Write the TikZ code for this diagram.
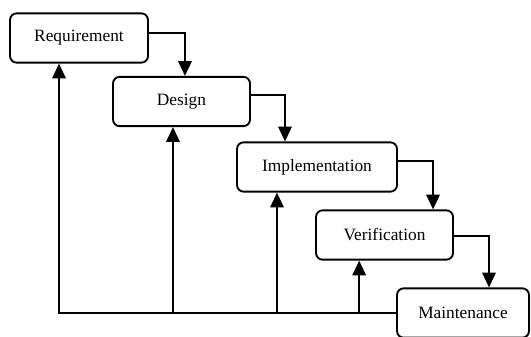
\documentclass[tikz,border=0pt]{standalone}
\usepackage{fontspec}
\setmainfont{Liberation Serif}
\usetikzlibrary{arrows.meta,positioning,calc}

\begin{document}
\begin{tikzpicture}[
      x=0.75pt,y=-0.75pt,line width=1.4pt,
      phase/.style = {draw,rectangle,rounded corners=5pt,minimum height=37pt,text centered,font=\fontsize{13}{15}\selectfont},
      arrow/.style = {-{Triangle[width=10pt,length=11pt]}}
    ]
      \useasboundingbox (0,0) rectangle (531,336);
      \node (req)[phase,minimum width=103.5pt] at (79,38) {Requirement};
      \node (des)[phase,minimum width=102.75pt] at (181.5,101.5) {Design};
      \node (imp)[phase,minimum width=120pt] at (317,167) {Implementation};
      \node (ver)[phase,minimum width=102.75pt] at (384.5,235) {Verification};
      \node (mai)[phase,minimum width=99pt] at (463,313) {Maintenance};

      % flow down the steps
      \draw [arrow] ([yshift=4pt]req.east) -| ([xshift=2.6pt]des.north);
      \draw [arrow] ([yshift=4.9pt]des.east) -| ([xshift=-24pt]imp.north);
      \draw [arrow] ([yshift=4.5pt]imp.east) -| ([xshift=36.4pt]ver.north);
      \draw [arrow] ([yshift=-0.75pt]ver.east) -| ([xshift=19.5pt]mai.north);

      % feedback from maintenance
      \coordinate (reqfoot) at ([xshift=-15pt]req.south);
      \coordinate (desfoot) at ([xshift=-6.4pt]des.south);
      \coordinate (impfoot) at ([xshift=-30pt]imp.south);
      \coordinate (verfoot) at ([xshift=-19pt]ver.south);
      \draw [arrow] (mai.west) -| (reqfoot);
      \draw [arrow] (desfoot |- mai.west) -- (desfoot);
      \draw [arrow] (impfoot |- mai.west) -- (impfoot);
      \draw [arrow] (verfoot |- mai.west) -- (verfoot);
    \end{tikzpicture}
\end{document}
